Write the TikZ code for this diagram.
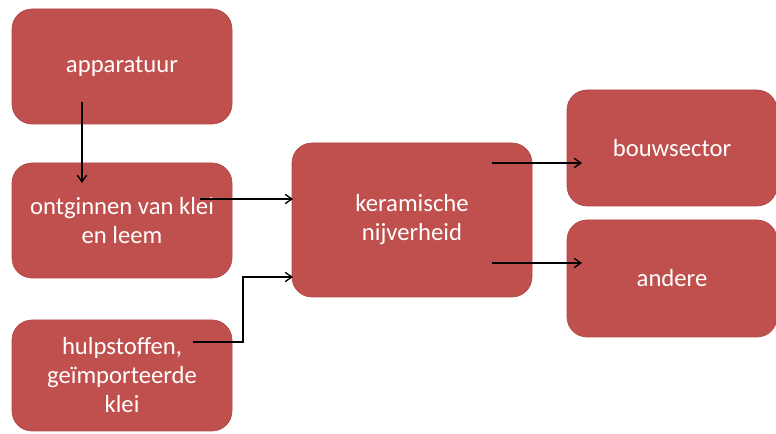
\documentclass[tikz,border=0pt]{standalone}
\usepackage{fontspec}
\setmainfont{Carlito}
\usetikzlibrary{calc,arrows.meta}
\definecolor{boxred}{RGB}{192,80,77}
\definecolor{boxedge}{RGB}{176,70,68}
\tikzset{
  blok/.style={draw=boxedge, line width=0.5pt, fill=boxred, rounded corners=15pt,
    text=white, align=center, inner sep=2pt,
    font=\fontsize{18.5pt}{21.75pt}\selectfont},
  pijl/.style={-{Straight Barb[length=5pt,width=7pt]}, line width=1pt, black}
}
\begin{document}
\begin{tikzpicture}[x=0.75pt,y=0.75pt,yscale=-1,xscale=1]
        \useasboundingbox (0,0) rectangle (776,434);
        % Text Node
        \draw (122,66.5) node [blok, minimum width=165pt, minimum height=86.25pt] (app) {apparatuur};
        % Text Node
        \draw (122,220.5) node [blok, minimum width=165pt, minimum height=86.25pt] (ontg) {ontginnen van klei\\en leem};
        % Text Node
        \draw (122,375.5) node [blok, minimum width=165pt, minimum height=83.25pt] (hulp) {hulpstoffen,\\geïmporteerde\\klei};
        % Text Node
        \draw (412,220) node [blok, minimum width=180pt, minimum height=115.5pt] (ker) {keramische\\nijverheid};
        % Text Node
        \draw (672,148) node [blok, minimum width=157.5pt, minimum height=87pt] (bouw) {bouwsector};
        % Text Node
        \draw (672,278.5) node [blok, minimum width=157.5pt, minimum height=87.75pt] (andere) {andere};
        % Connection
        \draw [pijl] ($(app.center)+(-40,35.5)$) -- ($(ontg.center)+(-40,-37.5)$);
        % Connection
        \draw [pijl] ($(ontg.center)+(78,-21.5)$) -- ($(ker.center)+(-119,-21)$);
        % Connection
        \draw [pijl] ($(hulp.center)+(71,-33.5)$) -- ++(50,0) |- ($(ker.center)+(-119,57)$);
        % Connection
        \draw [pijl] ($(ker.center)+(80,-57)$) -- ($(bouw.center)+(-90,15)$);
        % Connection
        \draw [pijl] ($(ker.center)+(80,43)$) -- ($(andere.center)+(-90,-15.5)$);
    \end{tikzpicture}
\end{document}
